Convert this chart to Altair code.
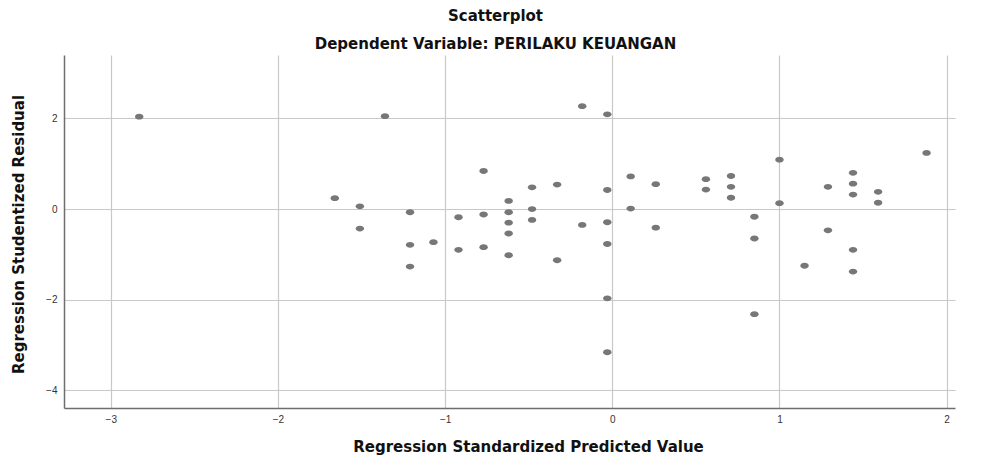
import altair as alt
import pandas as pd

# Regression Standardized Predicted Value
x_pred = [-2.83, -1.36, -0.18, -0.03, -0.77, 0.11, 0.26, -0.48, -0.33, -0.03,
          -1.66, -1.51, -0.62, -1.21, -0.92, -0.77, -0.62, -0.48, 0.11, -1.51,
          -0.62, -0.48, -0.18, -0.03, 0.26, -0.62, -1.21, -1.07, -0.92, -0.77,
          -0.03, -0.62, -0.33, -1.21, -0.03, -0.03, 1.88, 1.00, 1.44, 0.56,
          0.71, 0.71, 0.56, 1.29, 1.44, 1.44, 1.59, 1.59, 0.71, 1.00,
          0.85, 1.29, 0.85, 1.44, 1.15, 1.44, 0.85]
# Regression Studentized Residual
y_resid = [2.04, 2.05, 2.27, 2.09, 0.84, 0.72, 0.55, 0.48, 0.54, 0.42,
           0.24, 0.06, 0.18, -0.07, -0.18, -0.12, -0.07, 0.00, 0.01, -0.43,
           -0.30, -0.24, -0.35, -0.29, -0.41, -0.54, -0.79, -0.73, -0.90, -0.84,
           -0.77, -1.02, -1.13, -1.27, -1.97, -3.16, 1.24, 1.09, 0.80, 0.66,
           0.73, 0.49, 0.43, 0.49, 0.56, 0.32, 0.38, 0.14, 0.25, 0.13,
           -0.17, -0.47, -0.65, -0.90, -1.25, -1.38, -2.32]

x_ticks = [-3, -2, -1, 0, 1, 2]
y_ticks = [-4, -2, 0, 2]

df = pd.DataFrame({"pred": x_pred, "resid": y_resid})

ellipse = "M-1.3,0A1.3,0.9,0,1,0,1.3,0A1.3,0.9,0,1,0,-1.3,0Z"

axis_style = dict(
    titleFont="DejaVu Sans", titleFontSize=15, titleFontWeight="bold",
    titleColor="#111111", titleBaseline="middle",
    ticks=False, grid=True, gridColor="#c8c8c8", gridWidth=1.2,
    domainColor="#6e6e6e", domainWidth=1.5,
    labelFont="Liberation Sans", labelFontSize=10, labelColor="#333333",
)

chart = alt.Chart(df).mark_point(
    filled=True, shape=ellipse, size=42, color="#777777", opacity=1
).encode(
    x=alt.X("pred:Q",
            scale=alt.Scale(domain=[-3.28, 2.05], nice=False, zero=False),
            axis=alt.Axis(values=x_ticks, title="Regression Standardized Predicted Value",
                          titleX=464, titleY=38, labelPadding=6, **axis_style)),
    y=alt.Y("resid:Q",
            scale=alt.Scale(domain=[-4.39, 3.40], nice=False, zero=False),
            axis=alt.Axis(values=y_ticks, title="Regression Studentized Residual",
                          titleX=-45.5, titleY=179, titleAngle=270, labelPadding=7,
                          **axis_style)),
).properties(
    width=891, height=353,
    background="white",
    title=alt.TitleParams(
        text="Scatterplot",
        subtitle="Dependent Variable: PERILAKU KEUANGAN",
        anchor="middle", frame="group", dx=-14, offset=3,
        font="DejaVu Sans", fontSize=15, fontWeight="bold", color="#111111",
        subtitleFont="DejaVu Sans", subtitleFontSize=15, subtitleFontWeight="bold",
        subtitleColor="#111111", subtitlePadding=13,
    ),
    autosize=alt.AutoSizeParams(type="none"),
    padding={"left": 56, "top": 47, "right": 18, "bottom": 47},
).configure_view(
    stroke="transparent", strokeWidth=0
)

chart.save("out.html", embed_options={"renderer": "svg", "actions": False})
